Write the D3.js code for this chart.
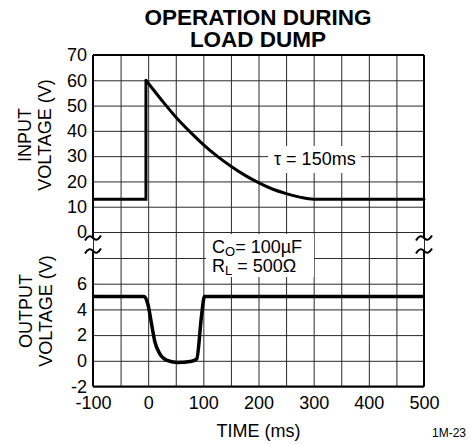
<!DOCTYPE html>
<html>
<head>
<meta charset="utf-8">
<script src="https://cdn.jsdelivr.net/npm/d3@7"></script>
<style>
  body { margin: 0; background: #fff; }
  text { font-family: "Liberation Sans", Arial, Helvetica, sans-serif; fill: #000; }
</style>
</head>
<body>
<div id="chart"></div>
<script>
var width = 471,
    height = 444;

// values
var timeTicks = [-100, -50, 0, 50, 100, 150, 200, 250, 300, 350, 400, 450, 500];
var inputTicks = [70, 60, 50, 40, 30, 20, 10, 0];
var outputTicks = [8, 6, 4, 2, 0, -2];

var inStepTime = [-100, -4, -4];
var inStepVolts = [13, 13, 60];
var inDecayTime = [-4, 25, 50, 75, 100, 125, 150, 175, 200, 225, 250, 275, 300, 500];
var inDecayVolts = [60, 52, 45.5, 39.8, 34.6, 30, 26, 22.5, 19.5, 17, 15.2, 13.8, 13, 13];

var outTime = [-100, -7, 0, 6, 12, 21, 33, 52, 79, 88, 97, 102, 500];
var outVolts = [5, 5, 4.3, 2.9, 1.5, 0.55, 0.05, -0.13, -0.03, 0.15, 3.6, 5, 5];

var plotL = 93, plotR = 424, plotT = 55, plotB = 386.5;

var x = d3.scaleLinear().domain([-100, 500]).range([plotL, plotR]);
var yIn = d3.scaleLinear().domain([0, 70]).range([232, plotT]);
var yOut = d3.scaleLinear().domain([-2, 8]).range([plotB, 258]);

var svg = d3.select("#chart")
    .append("svg")
    .attr("width", width)
    .attr("height", height);

// grids + tick labels
var xAxis = svg.append("g")
    .attr("transform", "translate(0," + plotB + ")")
    .call(d3.axisBottom(x)
        .tickValues(timeTicks)
        .tickSize(-(plotB - plotT))
        .tickPadding(10)
        .tickFormat(function(d) { return d % 100 == 0 ? String(d) : ""; }));

var inAxis = svg.append("g")
    .attr("transform", "translate(" + plotL + ",0)")
    .call(d3.axisLeft(yIn)
        .tickValues(inputTicks)
        .tickSize(-(plotR - plotL))
        .tickPadding(6)
        .tickFormat(function(d) { return String(d); }));

var outAxis = svg.append("g")
    .attr("transform", "translate(" + plotL + ",0)")
    .call(d3.axisLeft(yOut)
        .tickValues(outputTicks)
        .tickSize(-(plotR - plotL))
        .tickPadding(6)
        .tickFormat(function(d) { return d == 8 ? "" : String(d); }));

[xAxis, inAxis, outAxis].forEach(function(g) {
    g.select(".domain").remove();
    g.selectAll(".tick line").attr("stroke", "#2a2a2a").attr("stroke-width", 1);
    g.selectAll(".tick text")
        .style("font-size", "18px")
        .style("font-family", "'Liberation Sans', Arial, sans-serif")
        .attr("fill", "#000");
});

// frame with break marks
var frame = svg.append("g")
    .attr("fill", "none")
    .attr("stroke", "#000")
    .attr("stroke-width", 2);

frame.append("path").attr("d", "M" + plotL + "," + plotT + "H" + plotR);
frame.append("path").attr("d", "M" + plotL + "," + plotB + "H" + plotR);
[plotL, plotR].forEach(function(px) {
    frame.append("path").attr("d", "M" + px + "," + plotT + "V238M" + px + ",251V" + plotB);
    [238, 251].forEach(function(py) {
        frame.append("path")
            .attr("transform", "translate(" + px + "," + py + ")")
            .attr("d", "M-8,2.5Q-4,-4.5 0,0T8,-2.5");
    });
});

// annotation boxes
svg.append("rect")
    .attr("x", 268).attr("y", 146)
    .attr("width", 93).attr("height", 27)
    .attr("fill", "#fff");

svg.append("rect")
    .attr("x", 206).attr("y", 234)
    .attr("width", 108).attr("height", 43)
    .attr("fill", "#fff");

// traces
var line = d3.line()
    .x(function(d) { return x(d[0]); })
    .y(function(d) { return d[1]; });

var inStep = inStepTime.map(function(t, i) { return [t, yIn(inStepVolts[i])]; });
var inDecay = inDecayTime.map(function(t, i) { return [t, yIn(inDecayVolts[i])]; });
var outData = outTime.map(function(t, i) { return [t, yOut(outVolts[i])]; });

svg.append("path")
    .attr("d", line.curve(d3.curveLinear)(inStep))
    .attr("fill", "none")
    .attr("stroke", "#000")
    .attr("stroke-width", 3)
    .attr("stroke-linejoin", "miter");

svg.append("path")
    .attr("d", line.curve(d3.curveMonotoneX)(inDecay))
    .attr("fill", "none")
    .attr("stroke", "#000")
    .attr("stroke-width", 3)
    .attr("stroke-linecap", "round");

svg.append("path")
    .attr("d", line.curve(d3.curveMonotoneX)(outData))
    .attr("fill", "none")
    .attr("stroke", "#000")
    .attr("stroke-width", 3.5);

// texts
var title = svg.append("text")
    .attr("text-anchor", "middle")
    .style("font-size", "22.5px")
    .style("font-weight", "bold");
title.append("tspan").attr("x", 258).attr("y", 25).text("OPERATION DURING");
title.append("tspan").attr("x", 258).attr("y", 46.5).text("LOAD DUMP");

svg.append("text")
    .attr("x", 274).attr("y", 165)
    .style("font-size", "18px")
    .text("\u03c4 = 150ms");

var co = svg.append("text")
    .attr("x", 212).attr("y", 253)
    .style("font-size", "18px");
co.append("tspan").text("C");
co.append("tspan").attr("dy", 3).style("font-size", "13px").text("O");
co.append("tspan").attr("dy", -3).text("= 100\u00b5F");

var rl = svg.append("text")
    .attr("x", 212).attr("y", 271.5)
    .style("font-size", "18px");
rl.append("tspan").text("R");
rl.append("tspan").attr("dy", 3).style("font-size", "13px").text("L");
rl.append("tspan").attr("dy", -3).text(" = 500\u03a9");

function yLabel(cx, cy, lines) {
    var t = svg.append("text")
        .attr("transform", "translate(" + cx + "," + cy + ") rotate(-90)")
        .attr("text-anchor", "middle")
        .style("font-size", "18px");
    lines.forEach(function(s, i) {
        t.append("tspan").attr("x", 0).attr("y", i * 20).text(s);
    });
}
yLabel(31, 135, ["INPUT", "VOLTAGE (V)"]);
yLabel(32, 311, ["OUTPUT", "VOLTAGE (V)"]);

svg.append("text")
    .attr("x", x(200)).attr("y", 437)
    .attr("text-anchor", "middle")
    .style("font-size", "18px")
    .text("TIME (ms)");

svg.append("text")
    .attr("x", 432).attr("y", 437)
    .style("font-size", "12px")
    .text("1M-23");
</script>
</body>
</html>
